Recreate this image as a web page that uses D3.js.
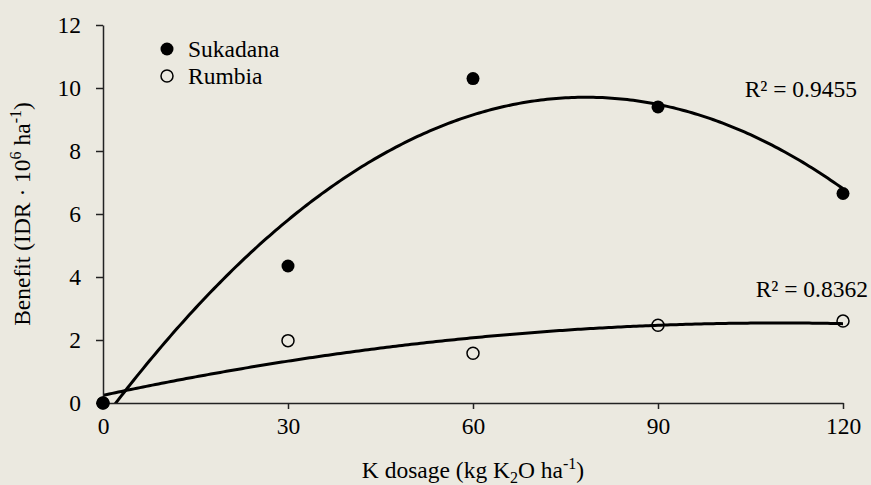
<!DOCTYPE html>
<html>
<head>
<meta charset="utf-8">
<script src="https://cdn.jsdelivr.net/npm/d3@7"></script>
<style>
  body { margin: 0; background: #ebe9e0; }
  svg { display: block; font-family: "Liberation Serif", "Times New Roman", serif; }
</style>
</head>
<body>
<div id="container"></div>
<script>
// Chart size and margins
const width = 871;
const height = 485;
const marginTop = 25;
const marginRight = 28;
const marginBottom = 82;
const marginLeft = 103;

// Data
const dosages = [0, 30, 60, 90, 120];
const sukadana = [0, 4.35, 10.3, 9.4, 6.65];
const rumbia = [0, 1.98, 1.58, 2.47, 2.6];
const xTicks = [0, 30, 60, 90, 120];
const yTicks = [0, 2, 4, 6, 8, 10, 12];
const r2Labels = ["R² = 0.9455", "R² = 0.8362"];

const fs = 23.5;

const x = d3.scaleLinear().domain([0, 120]).range([marginLeft, width - marginRight]);
const y = d3.scaleLinear().domain([0, 12]).range([height - marginBottom, marginTop]);

const svg = d3.select("#container").append("svg")
    .attr("width", width)
    .attr("height", height);

svg.append("rect").attr("width", width).attr("height", height).attr("fill", "#ebe9e0");

// second order polynomial least squares (like an Excel trendline)
function polyFit(xs, ys) {
  let s = [0, 0, 0, 0, 0], t = [0, 0, 0];
  xs.forEach((xi, i) => {
    for (let k = 0; k < 5; k++) s[k] += Math.pow(xi, k);
    for (let k = 0; k < 3; k++) t[k] += Math.pow(xi, k) * ys[i];
  });
  const A = [[s[0], s[1], s[2], t[0]], [s[1], s[2], s[3], t[1]], [s[2], s[3], s[4], t[2]]];
  for (let i = 0; i < 3; i++) {
    for (let j = i + 1; j < 3; j++) {
      const f = A[j][i] / A[i][i];
      for (let k = i; k < 4; k++) A[j][k] -= f * A[i][k];
    }
  }
  const c = [0, 0, 0];
  for (let i = 2; i >= 0; i--) {
    let v = A[i][3];
    for (let k = i + 1; k < 3; k++) v -= A[i][k] * c[k];
    c[i] = v / A[i][i];
  }
  return xv => c[0] + c[1] * xv + c[2] * xv * xv;
}

svg.append("clipPath").attr("id", "plot")
  .append("rect")
    .attr("x", marginLeft).attr("y", marginTop)
    .attr("width", width - marginRight - marginLeft)
    .attr("height", height - marginBottom - marginTop);

const line = d3.line().x(d => x(d[0])).y(d => y(d[1]));
[sukadana, rumbia].forEach(vals => {
  const f = polyFit(dosages, vals);
  const pts = d3.range(0, 120.5, 0.5).map(xv => [xv, f(xv)]);
  svg.append("path")
      .attr("d", line(pts))
      .attr("fill", "none")
      .attr("stroke", "#000")
      .attr("stroke-width", 3)
      .attr("clip-path", "url(#plot)");
});

// Axes
const xAxis = svg.append("g")
    .attr("transform", `translate(0,${y(0)})`)
    .call(d3.axisBottom(x).tickValues(xTicks).tickSize(6).tickSizeOuter(0).tickPadding(8));
const yAxis = svg.append("g")
    .attr("transform", `translate(${marginLeft},0)`)
    .call(d3.axisLeft(y).tickValues(yTicks).tickSize(7).tickSizeOuter(0).tickPadding(15));
[xAxis, yAxis].forEach(g => {
  g.select(".domain").attr("stroke", "#222").attr("stroke-width", 1.5);
  g.selectAll(".tick line").attr("stroke", "#222").attr("stroke-width", 1.5);
  g.selectAll(".tick text").attr("font-size", fs).attr("fill", "#000")
    .attr("font-family", "Liberation Serif, serif");
});

// Points
svg.append("g").selectAll("circle")
  .data(dosages.map((d, i) => [d, rumbia[i]]))
  .join("circle")
    .attr("cx", d => x(d[0])).attr("cy", d => y(d[1])).attr("r", 6)
    .attr("fill", "none").attr("stroke", "#000").attr("stroke-width", 1.5);
svg.append("g").selectAll("circle")
  .data(dosages.map((d, i) => [d, sukadana[i]]))
  .join("circle")
    .attr("cx", d => x(d[0])).attr("cy", d => y(d[1])).attr("r", 6.5)
    .attr("fill", "#000");

// Legend
const legend = svg.append("g").attr("font-size", fs);
legend.append("circle").attr("cx", 167).attr("cy", 49).attr("r", 6.5).attr("fill", "#000");
legend.append("text").attr("x", 188).attr("y", 57).text("Sukadana");
legend.append("circle").attr("cx", 167).attr("cy", 76).attr("r", 6)
    .attr("fill", "none").attr("stroke", "#000").attr("stroke-width", 1.5);
legend.append("text").attr("x", 188).attr("y", 84).text("Rumbia");

// R² labels
svg.append("text").attr("x", 857).attr("y", 97).attr("text-anchor", "end")
    .attr("font-size", fs).text(r2Labels[0]);
svg.append("text").attr("x", 868).attr("y", 297).attr("text-anchor", "end")
    .attr("font-size", fs).text(r2Labels[1]);

// Axis titles
const xTitle = svg.append("text")
    .attr("x", x(60)).attr("y", 478)
    .attr("text-anchor", "middle").attr("font-size", fs);
xTitle.append("tspan").text("K dosage (kg K");
xTitle.append("tspan").attr("font-size", 16).attr("dy", 5).text("2");
xTitle.append("tspan").attr("dy", -5).text("O ha");
xTitle.append("tspan").attr("font-size", 16).attr("dy", -9).text("-1");
xTitle.append("tspan").attr("dy", 9).text(")");

const yTitle = svg.append("text")
    .attr("transform", `translate(30,${y(6)}) rotate(-90)`)
    .attr("text-anchor", "middle").attr("font-size", fs);
yTitle.append("tspan").text("Benefit (IDR · 10");
yTitle.append("tspan").attr("font-size", 16).attr("dy", -9).text("6");
yTitle.append("tspan").attr("dy", 9).text(" ha");
yTitle.append("tspan").attr("font-size", 16).attr("dy", -9).text("-1");
yTitle.append("tspan").attr("dy", 9).text(")");
</script>
</body>
</html>
